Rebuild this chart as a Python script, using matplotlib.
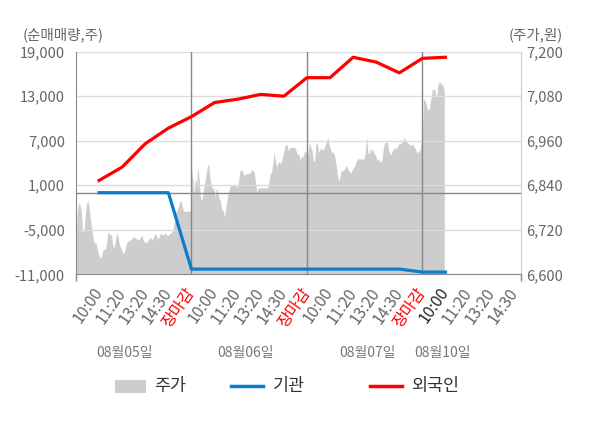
import numpy as np
import matplotlib
matplotlib.use('Agg')
import matplotlib.pyplot as plt
from matplotlib.lines import Line2D
from matplotlib.patches import Rectangle
import matplotlib.transforms as mtransforms

plt.rcParams['font.family'] = ['Noto Sans CJK KR', 'DejaVu Sans']

# ---------------- data ----------------
day_labels = ['08월05일', '08월06일', '08월07일', '08월10일']
time_labels = ['10:00', '11:20', '13:20', '14:30', '장마감']
last_day_times = ['10:00', '11:20', '13:20', '14:30']

# cumulative net buying (shares) at each labelled time (day1..day4 10:00)
foreign = [1650, 3450, 6600, 8700, 10250,
           12150, 12600, 13250, 13000, 15500,
           15500, 18250, 17600, 16150, 18100,
           18250]
institution = [0, 0, 0, 0, -10300,
               -10300, -10300, -10300, -10300, -10300,
               -10300, -10300, -10300, -10300, -10700,
               -10700]

# intraday price (won)
price_d1 = [6698, 6770, 6793, 6788, 6770, 6716, 6716, 6757, 6788, 6800, 6780, 6748,
            6721, 6698, 6683, 6685, 6672, 6656, 6646, 6644, 6658, 6669, 6665, 6676,
            6708, 6714, 6705, 6708, 6676, 6672, 6690, 6712, 6703, 6680, 6672, 6665,
            6656, 6662, 6678, 6687, 6690, 6692, 6694, 6698, 6701, 6699, 6695, 6693,
            6694, 6699, 6706, 6694, 6687, 6685, 6687, 6692, 6698, 6699, 6691, 6699,
            6710, 6705, 6698, 6696, 6708, 6712, 6705, 6708, 6712, 6705, 6705, 6708,
            6711, 6714, 6721, 6746, 6766, 6772, 6782, 6795, 6800, 6782, 6770, 6770,
            6770, 6770, 6770, 6770, 6770]
price_d2 = [6880, 6858, 6818, 6858, 6844, 6892, 6849, 6802, 6802, 6826, 6844, 6867,
            6887, 6900, 6862, 6840, 6831, 6833, 6808, 6831, 6826, 6806, 6800, 6772,
            6775, 6754, 6777, 6800, 6818, 6831, 6840, 6840, 6840, 6840, 6840, 6833,
            6853, 6880, 6880, 6880, 6862, 6871, 6871, 6873, 6871, 6876, 6882, 6880,
            6873, 6840, 6822, 6833, 6833, 6833, 6833, 6833, 6833, 6833, 6833, 6849,
            6871, 6876, 6898, 6930, 6907, 6887, 6903, 6901, 6898, 6912, 6925, 6943,
            6952, 6946, 6932, 6941, 6942, 6942, 6942, 6941, 6930, 6923, 6921, 6907,
            6921, 6914, 6930, 6930, 6930]
price_d3 = [6902, 6934, 6956, 6942, 6934, 6906, 6906, 6956, 6952, 6929, 6934, 6942,
            6934, 6938, 6947, 6956, 6970, 6952, 6938, 6929, 6929, 6924, 6906, 6884,
            6857, 6854, 6875, 6880, 6880, 6884, 6893, 6888, 6880, 6875, 6873, 6884,
            6888, 6893, 6906, 6911, 6911, 6911, 6911, 6911, 6911, 6929, 6970, 6929,
            6924, 6942, 6929, 6938, 6924, 6920, 6906, 6911, 6906, 6902, 6911, 6942,
            6956, 6956, 6956, 6934, 6924, 6924, 6934, 6938, 6942, 6938, 6947, 6952,
            6952, 6956, 6958, 6970, 6960, 6956, 6954, 6949, 6947, 6952, 6947, 6942,
            6934, 6929, 6929, 6934, 6952, 6956]
price_d4 = [7074, 7070, 7065, 7056, 7047, 7042, 7047, 7065, 7078, 7099, 7099, 7099,
            7092, 7076, 7092, 7119, 7114, 7119, 7110, 7114, 7105, 7092]

# ---------------- layout ----------------
W, H = 600, 428
fig = plt.figure(figsize=(W / 100, H / 100), dpi=100)
L, R, T, B = 76, 521, 51.7, 274.3
ax = fig.add_axes([L / W, 1 - B / H, (R - L) / W, (B - T) / H])
ax2 = ax.twinx()
ax.set_zorder(ax2.get_zorder() + 1)
ax.patch.set_visible(False)
ax2.patch.set_facecolor('#F4F4F4')

SLOTS = 5  # label slots per trading day
XMAX = 19.27

# price area on the right axis
xs, ps = [], []
for d, p in enumerate([price_d1, price_d2, price_d3]):
    xs.append(np.linspace(d * SLOTS, (d + 1) * SLOTS, len(p)))
    ps.append(np.array(p, float))
step = SLOTS / 116.0
xs.append(3 * SLOTS + (np.arange(len(price_d4)) + 1) * step)
ps.append(np.array(price_d4, float))
xp = np.concatenate(xs)
pp = np.concatenate(ps)
ax2.fill_between(xp, pp, 6600, color='#CDCDCD', lw=0, zorder=1)
ax2.set_ylim(6600, 7200)
ax2.set_yticks(np.arange(6600, 7201, 120))
ax2.set_yticklabels([f'{v:,}' for v in range(6600, 7201, 120)])
ax2.tick_params(axis='y', length=0, labelsize=10.5, labelcolor='#666666', pad=4)
for s in ['left', 'top', 'bottom']:
    ax2.spines[s].set_visible(False)
ax2.spines['right'].set_color('#CCCCCC')

# net-buying lines on left axis
xl = np.arange(1, len(foreign) + 1)
ax.set_ylim(-11000, 19000)
ax.set_xlim(0, XMAX)
yt = np.arange(-11000, 19001, 6000)
ax.set_yticks(yt)
ax.set_yticklabels([f'{v:,}' for v in yt])
ax.grid(axis='y', color='#DCDCDC', lw=1)
ax.grid(axis='x', visible=False)
ax.axhline(0, color='#888888', lw=1, zorder=2)
for d in range(1, 4):
    ax.axvline(d * SLOTS, color='#888888', lw=1, zorder=2)
ax.plot(xl, institution, color='#0A7DCB', lw=2.3, zorder=3, solid_joinstyle='round')
ax.plot(xl, foreign, color='#FF0000', lw=2.3, zorder=4, solid_joinstyle='round')

ax.tick_params(axis='y', length=0, labelsize=10.5, labelcolor='#666666', pad=8)
for s in ['top', 'right']:
    ax.spines[s].set_visible(False)
ax.spines['left'].set_color('#888888')
ax.spines['bottom'].set_color('#888888')

# x tick labels
tick_pos, tick_txt, tick_col = [], [], []
for d in range(3):
    for i, t in enumerate(time_labels):
        tick_pos.append(d * SLOTS + i + 1)
        tick_txt.append(t)
        tick_col.append('red' if t == '장마감' else '#666666')
for i, t in enumerate(last_day_times):
    tick_pos.append(3 * SLOTS + i + 1)
    tick_txt.append(t)
    tick_col.append('#222222' if i == 0 else '#666666')
ax.set_xticks(tick_pos)
ax.set_xticklabels(tick_txt, rotation=55, ha='right', va='center', rotation_mode='anchor')
for lab, c in zip(ax.get_xticklabels(), tick_col):
    lab.set_color(c)
ax.tick_params(axis='x', which='major', length=0, labelsize=11.5, pad=11)
ax.set_xticks([0, 5, 10, 15, XMAX], minor=True)
ax.tick_params(axis='x', which='minor', length=5, color='#888888', width=1)

# date labels
trans = mtransforms.blended_transform_factory(ax.transData, fig.transFigure)
date_x = [2.1, 7.35, 12.6, 15.85]
for x, lab in zip(date_x, day_labels):
    ax.text(x, 1 - 353 / H, lab, transform=trans, ha='center', va='center',
            fontsize=10, color='#777777')

# axis titles
fig.text(23 / W, 1 - 35 / H, '(순매매량,주)', ha='left', va='center', fontsize=10.5, color='#666666')
fig.text(509 / W, 1 - 35 / H, '(주가,원)', ha='left', va='center', fontsize=10.5, color='#666666')

# legend
ly = 1 - 386 / H
fig.patches.append(Rectangle((115 / W, 1 - 393 / H), 31 / W, 13 / H, transform=fig.transFigure,
                             facecolor='#CDCDCD', edgecolor='none'))
fig.text(154 / W, ly, '주가', ha='left', va='center', fontsize=12.5, color='#333333')
fig.lines.append(Line2D([231 / W, 263 / W], [ly, ly], transform=fig.transFigure,
                        color='#0A7DCB', lw=2.5))
fig.text(273 / W, ly, '기관', ha='left', va='center', fontsize=12.5, color='#333333')
fig.lines.append(Line2D([370 / W, 402 / W], [ly, ly], transform=fig.transFigure,
                        color='#FF0000', lw=2.5))
fig.text(411 / W, ly, '외국인', ha='left', va='center', fontsize=12.5, color='#333333')

fig.savefig('out.png', dpi=100, facecolor='white')
